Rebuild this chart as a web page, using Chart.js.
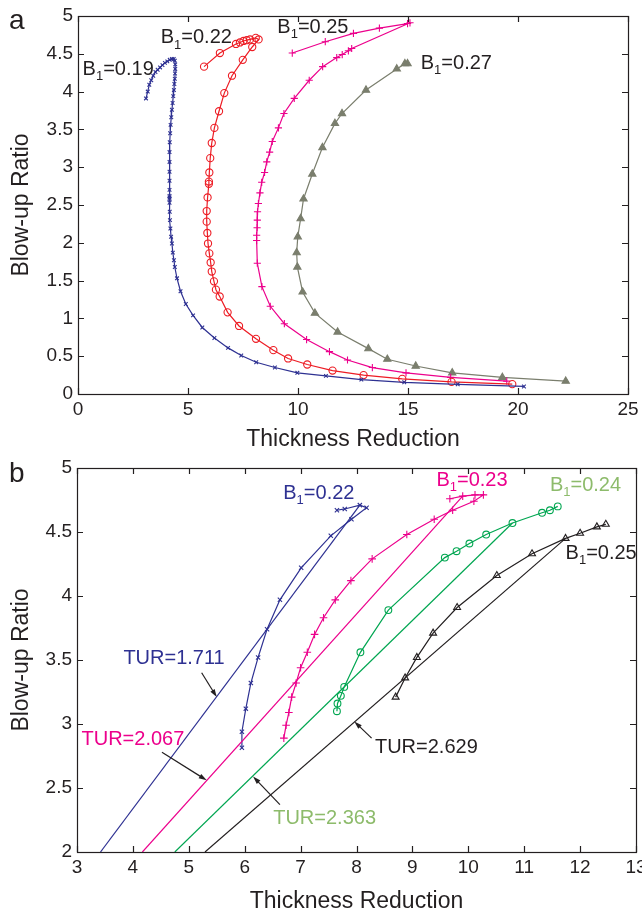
<!DOCTYPE html>
<html>
<head>
<meta charset="utf-8">
<script src="https://cdn.jsdelivr.net/npm/chart.js@4.4.0/dist/chart.umd.min.js"></script>
<style>
  html, body { margin: 0; padding: 0; background: #fff; overflow: hidden; }
  #wrapA { position: absolute; left: 0; top: 0; width: 642px; height: 455px; }
  #wrapB { position: absolute; left: 0; top: 455px; width: 642px; height: 456px; }
  .panel { position: absolute; font-family: 'Liberation Sans', Arial, sans-serif; font-size: 28px; color: #231F20; line-height: 32px; }
</style>
</head>
<body>
<div id="wrapA"><canvas id="chartA"></canvas></div>
<div id="wrapB"><canvas id="chartB"></canvas></div>
<div class="panel" style="left:9px; top:4px;">a</div>
<div class="panel" style="left:9px; top:457px;">b</div>
<script>
// ---- panel a : thickness reduction vs blow-up ratio ----
const a19x = [3.09, 3.17, 3.24, 3.33, 3.42, 3.52, 3.62, 3.73, 3.84, 3.95, 4.06, 4.17, 4.27, 4.35, 4.40, 4.42, 4.42, 4.41, 4.40, 4.38, 4.36, 4.33, 4.30, 4.27, 4.24, 4.21, 4.19, 4.17, 4.16, 4.16, 4.16, 4.16, 4.16, 4.16, 4.16, 4.16, 4.16, 4.17, 4.18, 4.20, 4.23, 4.27, 4.31, 4.36, 4.40, 4.50, 4.66, 4.90, 5.23, 5.65, 6.20, 6.82, 7.42, 8.10, 8.95, 9.97, 11.27, 12.88, 14.83, 17.26, 20.27];
const a19y = [3.91, 4.00, 4.09, 4.15, 4.21, 4.26, 4.29, 4.32, 4.35, 4.38, 4.40, 4.42, 4.43, 4.43, 4.41, 4.36, 4.30, 4.24, 4.17, 4.10, 4.02, 3.94, 3.85, 3.76, 3.66, 3.56, 3.45, 3.33, 3.20, 3.07, 2.94, 2.82, 2.70, 2.62, 2.60, 2.58, 2.53, 2.41, 2.30, 2.19, 2.08, 1.99, 1.87, 1.77, 1.68, 1.53, 1.36, 1.19, 1.04, 0.88, 0.74, 0.61, 0.51, 0.42, 0.35, 0.28, 0.24, 0.19, 0.155, 0.128, 0.10];

const a22x = [5.73, 6.45, 7.18, 7.36, 7.52, 7.67, 7.82, 8.08, 8.21, 7.92, 7.49, 7.00, 6.65, 6.41, 6.20, 6.08, 6.01, 5.97, 5.95, 5.95, 5.89, 5.85, 5.85, 5.88, 5.91, 5.97, 6.03, 6.08, 6.18, 6.27, 6.44, 6.80, 7.32, 8.09, 8.88, 9.55, 10.42, 11.57, 12.98, 14.74, 16.98, 19.74];
const a22y = [4.33, 4.51, 4.63, 4.65, 4.67, 4.68, 4.69, 4.71, 4.69, 4.59, 4.42, 4.21, 3.98, 3.74, 3.52, 3.32, 3.12, 2.93, 2.81, 2.78, 2.60, 2.42, 2.28, 2.13, 1.99, 1.86, 1.74, 1.62, 1.49, 1.38, 1.29, 1.08, 0.90, 0.73, 0.58, 0.47, 0.39, 0.31, 0.25, 0.20, 0.16, 0.13];

const a25x = [9.74, 11.24, 12.52, 13.70, 14.98, 15.09, 12.44, 12.29, 12.01, 11.76, 11.12, 10.51, 9.83, 9.36, 9.11, 8.83, 8.71, 8.58, 8.48, 8.35, 8.27, 8.20, 8.16, 8.15, 8.14, 8.12, 8.12, 8.15, 8.36, 8.74, 9.38, 10.39, 11.43, 12.25, 13.38, 14.91, 16.94, 19.49];
const a25y = [4.51, 4.66, 4.77, 4.84, 4.90, 4.91, 4.57, 4.54, 4.49, 4.45, 4.33, 4.15, 3.91, 3.71, 3.52, 3.34, 3.20, 3.07, 2.93, 2.80, 2.66, 2.52, 2.41, 2.30, 2.20, 2.10, 2.03, 1.73, 1.42, 1.16, 0.93, 0.72, 0.56, 0.45, 0.35, 0.28, 0.22, 0.17];

const a27x = [14.98, 14.86, 14.49, 13.09, 12.00, 11.68, 11.11, 10.65, 10.25, 10.12, 9.99, 9.94, 9.97, 10.21, 10.77, 11.80, 13.20, 14.06, 15.35, 17.01, 19.29, 22.17];
const a27y = [4.37, 4.37, 4.30, 4.02, 3.71, 3.58, 3.26, 2.91, 2.58, 2.32, 2.08, 1.87, 1.68, 1.35, 1.07, 0.82, 0.60, 0.46, 0.37, 0.28, 0.22, 0.17];

// ---- panel b : detail with constant take-up lines ----
const b22x = [5.95, 5.95, 6.02, 6.11, 6.24, 6.40, 6.63, 7.01, 7.54, 7.91, 8.18, 8.06, 7.79, 7.65];
const b22y = [2.815, 2.94, 3.12, 3.32, 3.52, 3.74, 3.97, 4.22, 4.47, 4.60, 4.69, 4.71, 4.68, 4.67];
const b23x = [6.70, 6.74, 6.79, 6.84, 6.92, 7.00, 7.12, 7.25, 7.41, 7.62, 7.90, 8.28, 8.90, 9.39, 9.72, 10.10, 10.27, 10.12, 9.90, 9.67];
const b23y = [2.89, 2.99, 3.09, 3.21, 3.32, 3.44, 3.56, 3.70, 3.83, 3.97, 4.12, 4.29, 4.48, 4.60, 4.67, 4.74, 4.79, 4.79, 4.78, 4.76];
const b24x = [7.65, 7.66, 7.72, 7.78, 8.07, 8.57, 9.58, 9.79, 10.02, 10.32, 10.79, 11.32, 11.46, 11.60];
const b24y = [3.10, 3.16, 3.22, 3.29, 3.56, 3.89, 4.30, 4.35, 4.41, 4.48, 4.57, 4.65, 4.67, 4.70];
const b25x = [8.70, 8.87, 9.08, 9.37, 9.80, 10.51, 11.14, 11.74, 12.00, 12.30, 12.46];
const b25y = [3.21, 3.36, 3.52, 3.71, 3.91, 4.16, 4.33, 4.45, 4.49, 4.54, 4.56];

// TUR lines (end points)
const tur1711x = [3.42, 8.06], tur1711y = [2.0, 4.71];
const tur2067x = [4.17, 9.90], tur2067y = [2.0, 4.78];
const tur2363x = [4.75, 10.79], tur2363y = [2.0, 4.57];
const tur2629x = [5.29, 11.74], tur2629y = [2.0, 4.45];

const ink = '#231F20';
const navy = '#2E3192';
const red = '#ED1C24';
const magenta = '#EC008C';
const olive = '#7A7E6D';
const green = '#00A651';
const paleGreen = '#8DBB6B';
const FONT = "'Liberation Sans', Arial, sans-serif";

const pts = (xs, ys) => xs.map((x, i) => ({ x: x, y: ys[i] }));

function series(xs, ys, color, style, radius, fill) {
  return {
    data: pts(xs, ys),
    showLine: true,
    borderColor: color,
    borderWidth: 1.2,
    pointStyle: style,
    pointRadius: radius,
    pointBorderColor: color,
    pointBorderWidth: 1.1,
    pointBackgroundColor: fill || 'rgba(0,0,0,0)',
    pointHoverRadius: radius
  };
}

function plainLine(xs, ys, color) {
  return { data: pts(xs, ys), showLine: true, borderColor: color, borderWidth: 1.2, pointRadius: 0 };
}

// frame + inward ticks on all four sides
const boxTicks = {
  id: 'boxTicks',
  afterDatasetsDraw(chart) {
    const { ctx, chartArea: a, scales: { x, y } } = chart;
    ctx.save();
    ctx.strokeStyle = ink;
    ctx.lineWidth = 1.2;
    ctx.beginPath();
    x.ticks.forEach(t => {
      const px = Math.round(x.getPixelForValue(t.value)) + 0.5;
      ctx.moveTo(px, a.bottom); ctx.lineTo(px, a.bottom - 6);
      ctx.moveTo(px, a.top); ctx.lineTo(px, a.top + 6);
    });
    y.ticks.forEach(t => {
      const py = Math.round(y.getPixelForValue(t.value)) + 0.5;
      ctx.moveTo(a.left, py); ctx.lineTo(a.left + 6, py);
      ctx.moveTo(a.right, py); ctx.lineTo(a.right - 6, py);
    });
    ctx.stroke();
    ctx.strokeRect(Math.round(a.left) + 0.5, Math.round(a.top) + 0.5, Math.round(a.right - a.left), Math.round(a.bottom - a.top));
    ctx.restore();
  }
};

// text labels (with B subscript 1) and arrows, placed in data units
const notes = {
  id: 'notes',
  afterDraw(chart, args, opts) {
    const { ctx, scales: { x, y } } = chart;
    ctx.save();
    (opts.arrows || []).forEach(ar => {
      const x0 = x.getPixelForValue(ar.from[0]), y0 = y.getPixelForValue(ar.from[1]);
      const x1 = x.getPixelForValue(ar.to[0]), y1 = y.getPixelForValue(ar.to[1]);
      const ang = Math.atan2(y1 - y0, x1 - x0);
      ctx.strokeStyle = ink; ctx.fillStyle = ink; ctx.lineWidth = 1.2;
      ctx.beginPath(); ctx.moveTo(x0, y0); ctx.lineTo(x1 - 6 * Math.cos(ang), y1 - 6 * Math.sin(ang)); ctx.stroke();
      ctx.beginPath();
      ctx.moveTo(x1, y1);
      ctx.lineTo(x1 - 8 * Math.cos(ang) + 2.5 * Math.sin(ang), y1 - 8 * Math.sin(ang) - 2.5 * Math.cos(ang));
      ctx.lineTo(x1 - 8 * Math.cos(ang) - 2.5 * Math.sin(ang), y1 - 8 * Math.sin(ang) + 2.5 * Math.cos(ang));
      ctx.closePath(); ctx.fill();
    });
    ctx.textBaseline = 'middle';
    ctx.textAlign = 'left';
    (opts.labels || []).forEach(l => {
      let px = x.getPixelForValue(l.at[0]);
      const py = y.getPixelForValue(l.at[1]);
      ctx.fillStyle = l.color;
      ctx.font = '20px ' + FONT;
      if (l.sub) {
        ctx.fillText('B', px, py); px += ctx.measureText('B').width;
        ctx.font = '13px ' + FONT;
        ctx.fillText('1', px, py + 7); px += ctx.measureText('1').width;
        ctx.font = '20px ' + FONT;
      }
      ctx.fillText(l.text, px, py);
    });
    ctx.restore();
  }
};

const plainNum = v => String(Math.round(v * 100) / 100);

function axes(xr, yr, yWidth, xHeight, xTitleFont, xTitlePad) {
  return {
    x: {
      type: 'linear', min: xr[0], max: xr[1],
      ticks: { stepSize: xr[2], color: ink, font: { family: FONT, size: 19 }, padding: 4, callback: plainNum },
      grid: { display: false, drawTicks: false },
      border: { display: false },
      title: { display: true, text: 'Thickness Reduction', color: ink, font: xTitleFont, padding: { top: 0, bottom: xTitlePad } },
      afterFit: s => { s.height = xHeight; s.paddingLeft = 0; s.paddingRight = 0; }
    },
    y: {
      type: 'linear', min: yr[0], max: yr[1],
      ticks: { stepSize: yr[2], color: ink, font: { family: FONT, size: 19 }, padding: 5, callback: plainNum },
      grid: { display: false, drawTicks: false },
      border: { display: false },
      title: { display: true, text: 'Blow-up Ratio', color: ink, font: { family: FONT, size: 23 }, padding: { top: 8, bottom: 0 } },
      afterFit: s => { s.width = yWidth; s.paddingTop = 0; s.paddingBottom = 0; }
    }
  };
}

Chart.defaults.font.family = FONT;

new Chart(document.getElementById('chartA'), {
  type: 'scatter',
  data: {
    datasets: [
      series(a19x, a19y, navy, 'crossRot', 2.6),
      series(a22x, a22y, red, 'circle', 3.6),
      series(a25x, a25y, magenta, 'cross', 3.6),
      series(a27x, a27y, olive, 'triangle', 4.2, olive)
    ]
  },
  options: {
    responsive: true,
    maintainAspectRatio: false,
    animation: false,
    layout: { autoPadding: false, padding: { left: 0, top: 16, right: 14, bottom: 0 } },
    scales: axes([0, 25, 5], [0, 5, 0.5], 78, 61, { family: FONT, size: 23 }, 2),
    plugins: {
      legend: { display: false },
      tooltip: { enabled: false },
      notes: {
        labels: [
          { sub: true, text: '=0.19', at: [0.21, 4.29], color: ink },
          { sub: true, text: '=0.22', at: [3.76, 4.71], color: ink },
          { sub: true, text: '=0.25', at: [9.06, 4.85], color: ink },
          { sub: true, text: '=0.27', at: [15.58, 4.37], color: ink }
        ]
      }
    }
  },
  plugins: [boxTicks, notes]
});

new Chart(document.getElementById('chartB'), {
  type: 'scatter',
  data: {
    datasets: [
      plainLine(tur1711x, tur1711y, navy),
      plainLine(tur2067x, tur2067y, magenta),
      plainLine(tur2363x, tur2363y, green),
      plainLine(tur2629x, tur2629y, ink),
      series(b22x, b22y, navy, 'crossRot', 3),
      series(b23x, b23y, magenta, 'cross', 3.8),
      series(b24x, b24y, green, 'circle', 3.4),
      series(b25x, b25y, ink, 'triangle', 4)
    ]
  },
  options: {
    responsive: true,
    maintainAspectRatio: false,
    animation: false,
    layout: { autoPadding: false, padding: { left: 0, top: 13, right: 6, bottom: 0 } },
    scales: axes([3, 13, 1], [2, 5, 0.5], 77, 59, { family: FONT, size: 23, lineHeight: 0.8 }, 0),
    plugins: {
      legend: { display: false },
      tooltip: { enabled: false },
      notes: {
        labels: [
          { sub: true, text: '=0.22', at: [6.69, 4.80], color: navy },
          { sub: true, text: '=0.23', at: [9.43, 4.90], color: magenta },
          { sub: true, text: '=0.24', at: [11.46, 4.86], color: paleGreen },
          { sub: true, text: '=0.25', at: [11.74, 4.33], color: ink },
          { text: 'TUR=1.711', at: [3.83, 3.51], color: navy },
          { text: 'TUR=2.067', at: [3.08, 2.88], color: magenta },
          { text: 'TUR=2.363', at: [6.51, 2.26], color: paleGreen },
          { text: 'TUR=2.629', at: [8.33, 2.82], color: ink }
        ],
        arrows: [
          { from: [5.23, 3.40], to: [5.50, 3.21] },
          { from: [4.52, 2.78], to: [5.32, 2.56] },
          { from: [6.63, 2.37], to: [6.15, 2.59] },
          { from: [8.27, 2.89], to: [7.96, 3.02] }
        ]
      }
    }
  },
  plugins: [boxTicks, notes]
});
</script>
</body>
</html>
